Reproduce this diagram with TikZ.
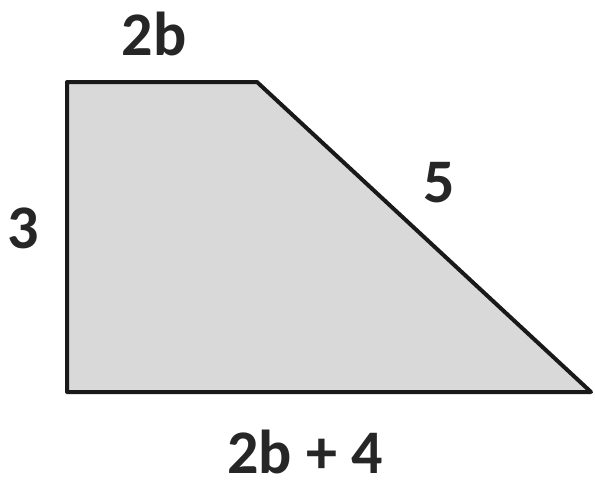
\documentclass[tikz,border=0pt]{standalone}
\usepackage{fontspec}
\setmainfont{Carlito}
\begin{document}
\begin{tikzpicture}[x=1pt,y=-1pt,
  lbl/.style={font=\fontsize{62}{66}\selectfont\bfseries, text=black!85, inner sep=0pt},
  trap/.style={draw=black!90, line width=4pt, fill=gray!30, line join=round}]
\useasboundingbox (0,0) rectangle (595,483);
\coordinate (A) at (67,82);
\coordinate (B) at (257,82);
\coordinate (C) at (591,392);
\coordinate (D) at (67,392);
\draw[trap] (A) -- (B) -- (C) -- (D) -- cycle;
\node[lbl] (top) at (154,34) {2b};
\node[lbl] (slant) at (439,183) {5};
\node[lbl] (left) at (23,228) {3};
\node[lbl] (bottom) at (305,452) {2b + 4};
\end{tikzpicture}
\end{document}
